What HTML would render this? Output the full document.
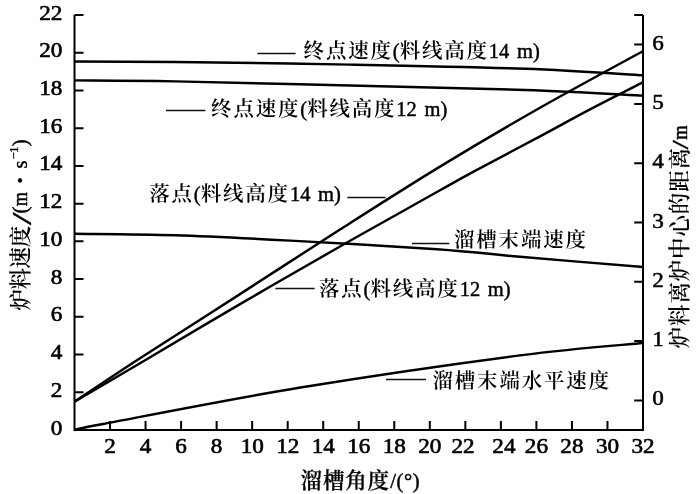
<!DOCTYPE html>
<html lang="zh"><head><meta charset="utf-8"><title>chart</title>
<style>html,body{margin:0;padding:0;background:#fff;}svg{display:block;}text{font-family:"Liberation Serif", "Noto Serif CJK SC", serif;fill:#000;}.n{font-size:20.5px;font-weight:400;letter-spacing:0;word-spacing:2.5px;stroke:#000;stroke-width:0.45px;}.c{font-size:20.5px;font-weight:600;letter-spacing:1.8px;}.v{font-size:21.5px;font-weight:600;letter-spacing:-1.3px;}.t{font-size:20.5px;font-weight:400;stroke:#000;stroke-width:0.6px;}.tr{font-size:20.5px;font-weight:400;stroke:#000;stroke-width:0.5px;}.ax{stroke:#000;stroke-width:2;fill:none;}.cv{stroke:#000;stroke-width:2.45;fill:none;stroke-linecap:butt;}.ld{stroke:#111;stroke-width:1.3;fill:none;}</style></head><body>
<svg width="700" height="494" viewBox="0 0 700 494">
<rect width="700" height="494" fill="#fff"/>
<path class="ax" d="M74.5 15.0 V430.0 H643.0 V15.0"/>
<path class="ax" d="M74.5 392.27 h9 M74.5 354.55 h9 M74.5 316.82 h9 M74.5 279.09 h9 M74.5 241.36 h9 M74.5 203.64 h9 M74.5 165.91 h9 M74.5 128.18 h9 M74.5 90.45 h9 M74.5 52.73 h9 M74.5 15.00 h9 M110.03 430.0 v-9 M145.56 430.0 v-9 M181.09 430.0 v-9 M216.62 430.0 v-9 M252.16 430.0 v-9 M287.69 430.0 v-9 M323.22 430.0 v-9 M358.75 430.0 v-9 M394.28 430.0 v-9 M429.81 430.0 v-9 M465.34 430.0 v-9 M500.88 430.0 v-9 M536.41 430.0 v-9 M571.94 430.0 v-9 M607.47 430.0 v-9 M643.0 400.40 h-8.8 M643.0 341.10 h-8.8 M643.0 281.80 h-8.8 M643.0 222.50 h-8.8 M643.0 163.20 h-8.8 M643.0 103.90 h-8.8 M643.0 44.60 h-8.8 M643.0 15.0 h-8.8"/>
<text class="t" transform="translate(62.3 434.5) scale(1.13 1)" text-anchor="end">0</text>
<text class="t" transform="translate(62.3 396.8) scale(1.13 1)" text-anchor="end">2</text>
<text class="t" transform="translate(62.3 359.0) scale(1.13 1)" text-anchor="end">4</text>
<text class="t" transform="translate(62.3 321.3) scale(1.13 1)" text-anchor="end">6</text>
<text class="t" transform="translate(62.3 283.6) scale(1.13 1)" text-anchor="end">8</text>
<text class="t" transform="translate(62.3 245.9) scale(1.13 1)" text-anchor="end">10</text>
<text class="t" transform="translate(62.3 208.1) scale(1.13 1)" text-anchor="end">12</text>
<text class="t" transform="translate(62.3 170.4) scale(1.13 1)" text-anchor="end">14</text>
<text class="t" transform="translate(62.3 132.7) scale(1.13 1)" text-anchor="end">16</text>
<text class="t" transform="translate(62.3 95.0) scale(1.13 1)" text-anchor="end">18</text>
<text class="t" transform="translate(62.3 57.2) scale(1.13 1)" text-anchor="end">20</text>
<text class="t" transform="translate(62.3 19.5) scale(1.13 1)" text-anchor="end">22</text>
<text class="t" transform="translate(110.0 452.8) scale(1.13 1)" text-anchor="middle">2</text>
<text class="t" transform="translate(145.6 452.8) scale(1.13 1)" text-anchor="middle">4</text>
<text class="t" transform="translate(181.1 452.8) scale(1.13 1)" text-anchor="middle">6</text>
<text class="t" transform="translate(216.6 452.8) scale(1.13 1)" text-anchor="middle">8</text>
<text class="t" transform="translate(252.2 452.8) scale(1.13 1)" text-anchor="middle">10</text>
<text class="t" transform="translate(287.7 452.8) scale(1.13 1)" text-anchor="middle">12</text>
<text class="t" transform="translate(323.2 452.8) scale(1.13 1)" text-anchor="middle">14</text>
<text class="t" transform="translate(358.8 452.8) scale(1.13 1)" text-anchor="middle">16</text>
<text class="t" transform="translate(394.3 452.8) scale(1.13 1)" text-anchor="middle">18</text>
<text class="t" transform="translate(429.8 452.8) scale(1.13 1)" text-anchor="middle">20</text>
<text class="t" transform="translate(463.1 452.8) scale(1.13 1)" text-anchor="middle">22</text>
<text class="t" transform="translate(503.9 452.8) scale(1.13 1)" text-anchor="middle">24</text>
<text class="t" transform="translate(536.4 452.8) scale(1.13 1)" text-anchor="middle">26</text>
<text class="t" transform="translate(571.9 452.8) scale(1.13 1)" text-anchor="middle">28</text>
<text class="t" transform="translate(607.5 452.8) scale(1.13 1)" text-anchor="middle">30</text>
<text class="t" transform="translate(643.0 452.8) scale(1.13 1)" text-anchor="middle">32</text>
<text class="tr" transform="translate(652.3 405.4) scale(1.13 1)">0</text>
<text class="tr" transform="translate(652.3 346.1) scale(1.13 1)">1</text>
<text class="tr" transform="translate(652.3 286.8) scale(1.13 1)">2</text>
<text class="tr" transform="translate(652.3 227.5) scale(1.13 1)">3</text>
<text class="tr" transform="translate(652.3 168.2) scale(1.13 1)">4</text>
<text class="tr" transform="translate(652.3 108.9) scale(1.13 1)">5</text>
<text class="tr" transform="translate(652.3 49.6) scale(1.13 1)">6</text>
<path class="cv" d="M74.50 61.50 C91.25 61.58 129.08 61.48 175.00 62.00 C220.92 62.52 291.67 63.47 350.00 64.60 C408.33 65.73 476.13 67.02 525.00 68.80 C573.87 70.58 623.50 74.22 643.20 75.30"/>
<path class="cv" d="M74.50 80.40 C91.25 80.57 129.08 80.55 175.00 81.40 C220.92 82.25 291.67 84.07 350.00 85.50 C408.33 86.93 476.13 88.32 525.00 90.00 C573.87 91.68 623.50 94.67 643.20 95.60"/>
<path class="cv" d="M74.50 233.80 C91.25 234.05 139.08 234.17 175.00 235.30 C210.92 236.43 246.33 238.28 290.00 240.60 C333.67 242.92 398.67 246.50 437.00 249.20 C475.33 251.90 485.63 253.83 520.00 256.80 C554.37 259.77 622.67 265.30 643.20 267.00"/>
<path class="cv" d="M74.50 430.00 C79.25 429.00 65.58 431.03 103.00 424.00 C140.42 416.97 229.50 399.23 299.00 387.80 C368.50 376.37 462.63 362.87 520.00 355.40 C577.37 347.93 622.67 345.07 643.20 343.00"/>
<path class="cv" d="M74.50 401.70 C85.42 394.47 112.42 376.23 140.00 358.30 C167.58 340.37 206.67 315.57 240.00 294.10 C273.33 272.63 306.67 250.75 340.00 229.50 C373.33 208.25 406.67 186.88 440.00 166.60 C473.33 146.32 506.13 127.07 540.00 107.80 C573.87 88.53 626.00 60.47 643.20 51.00"/>
<path class="cv" d="M74.50 401.70 C85.42 395.30 112.42 379.57 140.00 363.30 C167.58 347.03 206.67 323.57 240.00 304.10 C273.33 284.63 313.33 261.72 340.00 246.50 C366.67 231.28 383.33 222.17 400.00 212.80 C416.67 203.43 427.50 197.28 440.00 190.30 C452.50 183.32 458.33 179.88 475.00 170.90 C491.67 161.92 520.83 146.65 540.00 136.40 C559.17 126.15 572.80 118.43 590.00 109.40 C607.20 100.37 634.33 86.73 643.20 82.20"/>
<path class="ld" d="M257.4 53.5 H295.6"/>
<text class="c" x="303.6" y="57.5" text-anchor="start">终点速度<tspan class="n">(</tspan>料线高度<tspan class="n">14 m)</tspan></text>
<path class="ld" d="M166.0 110.5 H205.4"/>
<text class="c" x="211.1" y="116.2" text-anchor="start">终点速度<tspan class="n">(</tspan>料线高度<tspan class="n">12 m)</tspan></text>
<path class="ld" d="M347.4 197.5 H385.6"/>
<text class="c" x="340.8" y="201.0" text-anchor="end">落点<tspan class="n">(</tspan>料线高度<tspan class="n">14 m)</tspan></text>
<path class="ld" d="M275.4 288.5 H314.6"/>
<text class="c" x="319.0" y="296.0" text-anchor="start">落点<tspan class="n">(</tspan>料线高度<tspan class="n">12 m)</tspan></text>
<path class="ld" d="M412.0 243.5 H449.3"/>
<text class="c" x="454.0" y="246.8" text-anchor="start">溜槽末端速度</text>
<path class="ld" d="M386.0 379.5 H426.0"/>
<text class="c" x="432.5" y="387.5" text-anchor="start">溜槽末端水平速度</text>
<text class="c" x="300.6" y="487.8" style="font-size:21.5px;letter-spacing:0.8px;font-weight:600;stroke:#000;stroke-width:0.25px">溜槽角度<tspan class="n" dx="0.5" style="letter-spacing:0.6px">/(°)</tspan></text>
<text class="v" transform="rotate(-90)" x="-310.6" y="27.9" style="letter-spacing:-0.4px">炉料速度</text>
<text class="n" transform="rotate(-90) translate(-225.2 30.6) scale(2.30 1.35)" style="stroke-width:0.2px">/</text>
<text class="n" transform="rotate(-90)" x="-213.4" y="27.3">(</text>
<text class="n" transform="rotate(-90) translate(-206.2 27.3) scale(0.88 1.00)">m</text>
<text class="n" transform="rotate(-90)" x="-186.1" y="31.2" style="font-size:34px">·</text>
<text class="n" transform="rotate(-90)" x="-168.4" y="27.3">s</text>
<text class="n" transform="rotate(-90)" x="-159.6" y="18.0" style="font-size:13px;letter-spacing:-0.8px;stroke-width:0.3px">−1</text>
<text class="n" transform="rotate(-90)" x="-146.2" y="27.3">)</text>
<text class="v" transform="rotate(-90)" x="-348.3" y="687.3" style="letter-spacing:0.85px">炉料离炉中心的距离</text>
<text class="n" transform="rotate(-90) translate(-149.5 687.5) scale(1.65 1.17)" style="stroke-width:0.3px">/</text>
<text class="n" transform="rotate(-90) translate(-139.8 687.4) scale(0.90 1.00)">m</text>
</svg></body></html>
